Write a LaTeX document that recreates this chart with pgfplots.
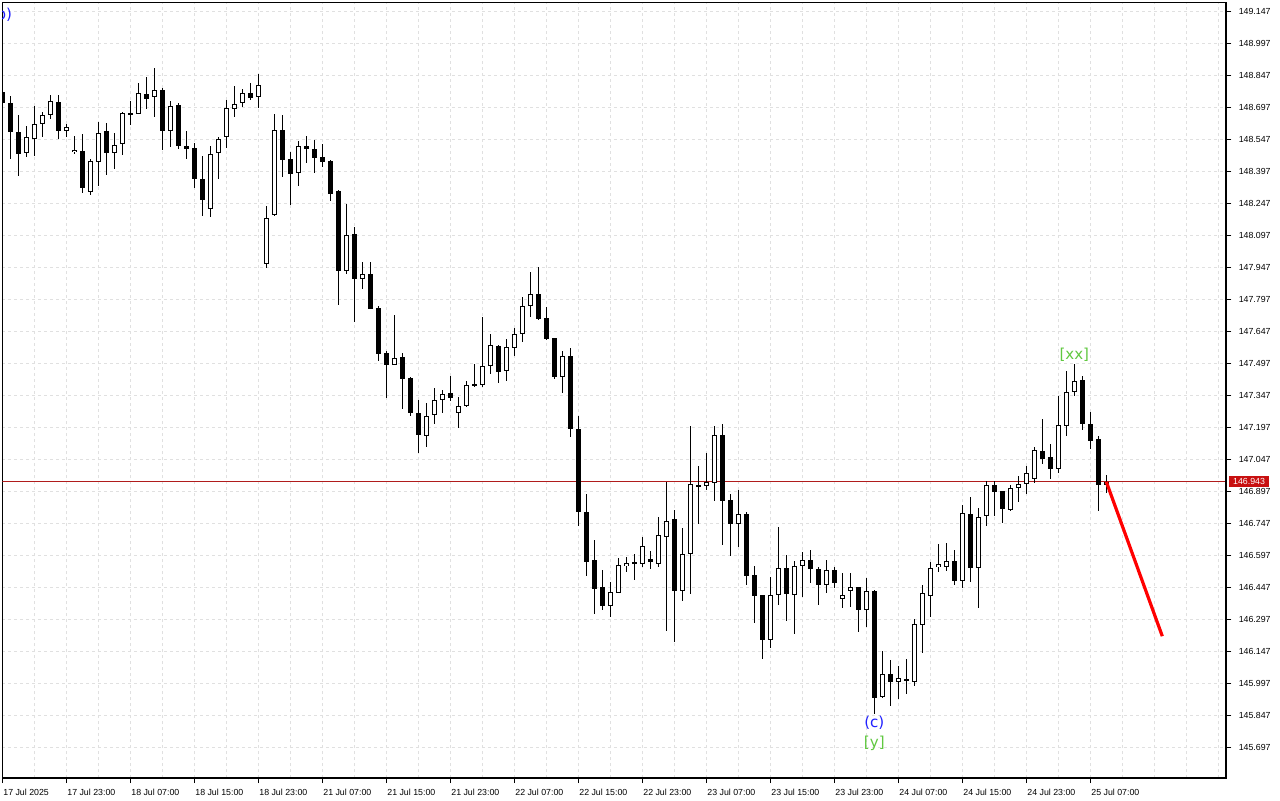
\documentclass[border=0pt]{standalone}
\usepackage{pgfplots}
\pgfplotsset{compat=1.18}
\usepackage{pgfplotstable}
\usepackage{fontspec}
\setmainfont{Liberation Sans}
\newfontfamily\annfont{DejaVu Sans}

\definecolor{gridgray}{RGB}{224,224,224}
\definecolor{priceline}{RGB}{176,28,28}
\definecolor{pricebox}{RGB}{200,16,16}
\definecolor{wavegreen}{RGB}{96,200,64}
\definecolor{waveblue}{RGB}{32,32,255}

% hourly candles, 17 Jul 15:00 .. 25 Jul 09:00
\pgfplotstableread{
i o h l c
0 148.768 148.772 148.712 148.716
1 148.715 148.749 148.453 148.579
2 148.581 148.660 148.376 148.479
3 148.481 148.609 148.465 148.556
4 148.549 148.702 148.470 148.621
5 148.619 148.674 148.559 148.659
6 148.659 148.754 148.643 148.724
7 148.724 148.754 148.549 148.584
8 148.584 148.617 148.556 148.603
9 148.486 148.565 148.479 148.496
10 148.492 148.571 148.296 148.317
11 148.303 148.456 148.286 148.445
12 148.443 148.627 148.328 148.579
13 148.584 148.624 148.381 148.484
14 148.486 148.576 148.409 148.523
15 148.523 148.674 148.474 148.670
16 148.671 148.724 148.615 148.663
17 148.668 148.809 148.665 148.762
18 148.758 148.838 148.690 148.738
19 148.743 148.883 148.652 148.780
20 148.780 148.787 148.496 148.587
21 148.587 148.724 148.512 148.706
22 148.706 148.718 148.500 148.516
23 148.518 148.585 148.453 148.504
24 148.504 148.528 148.320 148.359
25 148.361 148.467 148.189 148.261
26 148.223 148.515 148.184 148.481
27 148.481 148.559 148.364 148.551
28 148.556 148.734 148.507 148.692
29 148.687 148.796 148.652 148.715
30 148.715 148.785 148.699 148.766
31 148.766 148.809 148.730 148.743
32 148.743 148.852 148.696 148.801
33 147.963 148.237 147.947 148.177
34 148.191 148.665 148.187 148.589
35 148.589 148.660 148.371 148.451
36 148.453 148.486 148.240 148.383
37 148.387 148.542 148.329 148.514
38 148.514 148.562 148.437 148.502
39 148.504 148.542 148.390 148.462
40 148.464 148.524 148.418 148.443
41 148.445 148.449 148.259 148.292
42 148.304 148.308 147.772 147.931
43 147.933 148.244 147.917 148.102
44 148.102 148.136 147.692 147.894
45 147.896 147.971 147.846 147.919
46 147.919 147.975 147.752 147.753
47 147.755 147.766 147.510 147.543
48 147.545 147.555 147.337 147.491
49 147.493 147.724 147.490 147.526
50 147.526 147.545 147.285 147.426
51 147.429 147.434 147.252 147.266
52 147.264 147.329 147.079 147.161
53 147.161 147.310 147.107 147.254
54 147.254 147.382 147.215 147.325
55 147.325 147.373 147.266 147.357
56 147.359 147.438 147.321 147.337
57 147.264 147.340 147.196 147.298
58 147.296 147.413 147.293 147.395
59 147.401 147.493 147.388 147.393
60 147.398 147.713 147.387 147.484
61 147.484 147.638 147.451 147.582
62 147.582 147.583 147.407 147.458
63 147.460 147.611 147.415 147.573
64 147.573 147.666 147.532 147.638
65 147.638 147.807 147.599 147.769
66 147.769 147.928 147.716 147.821
67 147.821 147.947 147.700 147.705
68 147.708 147.763 147.607 147.611
69 147.615 147.616 147.423 147.435
70 147.435 147.555 147.360 147.535
71 147.535 147.568 147.154 147.193
72 147.193 147.254 146.737 146.803
73 146.800 146.889 146.505 146.569
74 146.577 146.670 146.324 146.442
75 146.449 146.530 146.343 146.363
76 146.363 146.472 146.309 146.426
77 146.426 146.588 146.422 146.557
78 146.550 146.590 146.522 146.561
79 146.567 146.605 146.483 146.560
80 146.561 146.685 146.545 146.642
81 146.580 146.619 146.533 146.569
82 146.561 146.777 146.545 146.693
83 146.683 146.943 146.246 146.758
84 146.769 146.811 146.194 146.433
85 146.433 146.727 146.386 146.604
86 146.606 147.206 146.419 146.933
87 146.931 147.017 146.747 146.922
88 146.922 147.078 146.905 146.941
89 146.941 147.204 146.856 147.162
90 147.162 147.214 146.647 146.856
91 146.858 146.886 146.597 146.747
92 146.747 146.905 146.639 146.791
93 146.791 146.802 146.461 146.503
94 146.507 146.549 146.281 146.410
95 146.413 146.416 146.112 146.204
96 146.204 146.497 146.165 146.412
97 146.413 146.733 146.369 146.538
98 146.538 146.600 146.290 146.416
99 146.416 146.572 146.232 146.549
100 146.549 146.613 146.405 146.577
101 146.577 146.624 146.472 146.533
102 146.535 146.543 146.368 146.463
103 146.463 146.577 146.424 146.530
104 146.530 146.545 146.444 146.472
105 146.393 146.517 146.354 146.412
106 146.430 146.517 146.355 146.449
107 146.449 146.450 146.241 146.344
108 146.344 146.491 146.265 146.430
109 146.432 146.436 145.856 145.932
110 145.935 146.151 145.931 146.042
111 146.042 146.109 145.895 146.007
112 146.007 146.081 145.925 146.026
113 146.018 146.115 145.950 146.014
114 146.006 146.304 145.987 146.276
115 146.271 146.460 146.143 146.421
116 146.410 146.567 146.311 146.543
117 146.545 146.652 146.522 146.557
118 146.545 146.656 146.525 146.572
119 146.572 146.622 146.460 146.480
120 146.480 146.834 146.446 146.795
121 146.795 146.870 146.475 146.541
122 146.541 146.822 146.354 146.781
123 146.781 146.947 146.737 146.928
124 146.928 146.948 146.784 146.897
125 146.900 146.902 146.751 146.814
126 146.814 146.931 146.806 146.917
127 146.917 146.970 146.850 146.936
128 146.936 147.017 146.884 146.987
129 146.955 147.104 146.936 147.092
130 147.087 147.237 147.028 147.051
131 147.059 147.120 146.957 147.004
132 147.004 147.345 146.986 147.207
133 147.206 147.462 147.159 147.362
134 147.362 147.494 147.346 147.418
135 147.418 147.438 147.187 147.215
136 147.214 147.270 147.098 147.137
137 147.143 147.161 146.808 146.929
138 146.929 146.975 146.892 146.943
}\candles

\begin{document}
\begin{tikzpicture}
\fill[white] (0,0) rectangle (960pt,600pt);
\useasboundingbox (0,0) rectangle (960pt,600pt);
\begin{axis}[
  at={(1.725pt,16.5pt)}, anchor=south west,
  width=918pt, height=581.625pt, scale only axis,
  xmin=0, xmax=153, ymin=145.556, ymax=149.187,
  clip mode=individual,
  axis line style={line width=0.75pt},
  tick style={black, line width=0.75pt},
  tick align=outside, major tick length=3.75pt, minor tick length=0pt,
  xtick pos=left, ytick pos=right, yticklabel pos=right,
  xtick={0,8,...,136},
  xticklabels={17 Jul 2025,17 Jul 23:00,18 Jul 07:00,18 Jul 15:00,18 Jul 23:00,21 Jul 07:00,21 Jul 15:00,21 Jul 23:00,22 Jul 07:00,22 Jul 15:00,22 Jul 23:00,23 Jul 07:00,23 Jul 15:00,23 Jul 23:00,24 Jul 07:00,24 Jul 15:00,24 Jul 23:00,25 Jul 07:00},
  minor xtick={4,12,20,28,36,44,52,60,68,76,84,92,100,108,116,124,132,140,144,148,152},
  ytick={145.697,145.847,145.997,146.147,146.297,146.447,146.597,146.747,146.897,147.047,147.197,147.347,147.497,147.647,147.797,147.947,148.097,148.247,148.397,148.547,148.697,148.847,148.997,149.147},
  yticklabels={145.697,145.847,145.997,146.147,146.297,146.447,146.597,146.747,146.897,147.047,147.197,147.347,147.497,147.647,147.797,147.947,148.097,148.247,148.397,148.547,148.697,148.847,148.997,149.147},
  tick label style={font=\fontsize{6.6}{7}\selectfont, inner sep=0pt},
  xticklabel style={anchor=north west, xshift=0.6pt, yshift=-4.5pt},
  yticklabel style={anchor=west, xshift=5.4pt},
  grid=both,
  major grid style={gridgray, line width=0.75pt, dash pattern=on 2.25pt off 2.25pt},
  minor grid style={gridgray, line width=0.75pt, dash pattern=on 2.25pt off 2.25pt},
]
% current price line
\addplot[priceline, line width=0.75pt, forget plot] coordinates {(0,146.943) (153,146.943)};
% wicks
\addplot[draw=none, mark=none, forget plot,
  error bars/.cd, y dir=both, y explicit, error mark=none,
  error bar style={draw=black, line width=0.75pt}]
  table[x=i, y expr={(\thisrow{h}+\thisrow{l})/2}, y error expr={(\thisrow{h}-\thisrow{l})/2}] {\candles};
% bodies (black outline / fill)
\addplot[draw=none, mark=none, forget plot,
  error bars/.cd, y dir=both, y explicit, error mark=none,
  error bar style={draw=black, line width=3.75pt}]
  table[x=i, y expr={(\thisrow{o}+\thisrow{c})/2}, y error expr={max(abs(\thisrow{c}-\thisrow{o})/2,0.0024)}] {\candles};
% hollow interior of bullish bodies
\addplot[draw=none, mark=none, forget plot,
  error bars/.cd, y dir=both, y explicit, error mark=none,
  error bar style={draw=white, line width=2.25pt}]
  table[x=i, y expr={(\thisrow{o}+\thisrow{c})/2}, y error expr={\thisrow{c}>\thisrow{o} ? max((\thisrow{c}-\thisrow{o})/2-0.0047,0) : 0}] {\candles};
% projected move
\addplot[red, line width=2.4pt, forget plot] coordinates {(138,146.943) (145,146.22)};

% wave labels
\node[text=wavegreen, font=\annfont\fontsize{11.3}{13}\selectfont] at (axis cs:134,147.537) {[xx]};
\node[text=waveblue, font=\annfont\fontsize{11.3}{13}\selectfont] at (axis cs:109,145.814) {(c)};
\node[text=wavegreen, font=\annfont\fontsize{11.3}{13}\selectfont] at (axis cs:109,145.720) {[y]};
\begin{scope}
  \clip (rel axis cs:0,0) rectangle (rel axis cs:1,1);
  \node[anchor=east, text=waveblue, inner sep=0pt, font=\annfont\fontsize{11.3}{13}\selectfont] at (axis cs:1.25,149.128) {(b)};
\end{scope}

% price tag
\node[anchor=west, fill=pricebox, text=white, inner sep=0pt, minimum width=30pt, minimum height=8.25pt,
  font=\fontsize{6.6}{7}\selectfont, xshift=1.9pt] at (axis cs:153,146.943) {146.943};

% heavier right and bottom frame
\draw[black, line width=1.5pt] (rel axis cs:1,0) -- (rel axis cs:1,1);
\draw[black, line width=1.5pt] (rel axis cs:0,0) -- (rel axis cs:1,0);
\end{axis}
\end{tikzpicture}
\end{document}
